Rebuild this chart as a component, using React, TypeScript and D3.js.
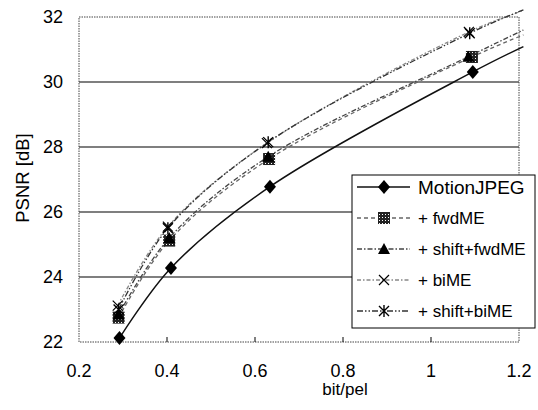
import React from 'react';
import * as d3 from 'd3';

// bit/pel and PSNR [dB]; last point is the tail past 1.2
const seriesNames = ['MotionJPEG', '+ fwdME', '+ shift+fwdME', '+ biME', '+ shift+biME'];
const motionX = [0.292, 0.409, 0.634, 1.095, 1.21];
const motionY = [22.12, 24.28, 26.78, 30.31, 31.09];
const fwdX = [0.29, 0.405, 0.632, 1.093, 1.21];
const fwdY = [22.75, 25.12, 27.63, 30.77, 31.45];
const shiftFwdX = [0.29, 0.405, 0.63, 1.085, 1.21];
const shiftFwdY = [22.85, 25.2, 27.7, 30.78, 31.6];
const biX = [0.288, 0.402, 0.627, 1.086, 1.21];
const biY = [23.12, 25.55, 28.12, 31.54, 32.2];
const shiftBiX = [0.29, 0.402, 0.63, 1.088, 1.21];
const shiftBiY = [23.0, 25.5, 28.15, 31.5, 32.22];

const xTicks = [0.2, 0.4, 0.6, 0.8, 1, 1.2];
const yTicks = [22, 24, 26, 28, 30, 32];

const font = '"Liberation Sans", Arial, sans-serif';

const styles = [
    { stroke: '#111', dash: null, width: 1.5, marker: 'diamond' },
    { stroke: '#666', dash: '4,3', width: 1.3, marker: 'checker' },
    { stroke: '#444', dash: '5,2,1.5,2', width: 1.3, marker: 'triangle' },
    { stroke: '#888', dash: '4,2,1.5,2', width: 1.3, marker: 'cross' },
    { stroke: '#333', dash: '6,2,1.5,2,1.5,2', width: 1.3, marker: 'star' },
];

function Marker({ kind, x, y }) {
    if (kind === 'diamond') {
        return <path d={`M${x},${y - 7}L${x + 6},${y}L${x},${y + 7}L${x - 6},${y}Z`} fill="#000" />;
    }
    if (kind === 'checker') {
        return <rect x={x - 6} y={y - 6} width={12} height={12} fill="url(#chk)" />;
    }
    if (kind === 'triangle') {
        return <path d={`M${x},${y - 6}L${x + 6},${y + 5}L${x - 6},${y + 5}Z`} fill="#000" />;
    }
    if (kind === 'cross') {
        return <path d={`M${x - 5},${y - 5}L${x + 5},${y + 5}M${x + 5},${y - 5}L${x - 5},${y + 5}`} stroke="#000" strokeWidth={1.2} fill="none" />;
    }
    return <path d={`M${x - 5},${y - 5}L${x + 5},${y + 5}M${x + 5},${y - 5}L${x - 5},${y + 5}M${x},${y - 6}L${x},${y + 6}`} stroke="#000" strokeWidth={1.4} fill="none" />;
}

export default function App() {
    const x = d3.scaleLinear().domain([0.2, 1.2]).range([79, 519]);
    const y = d3.scaleLinear().domain([22, 32]).range([342, 17]);

    const series = [
        [motionX, motionY],
        [fwdX, fwdY],
        [shiftFwdX, shiftFwdY],
        [biX, biY],
        [shiftBiX, shiftBiY],
    ];

    const line = d3
        .line()
        .x(d => x(d[0]))
        .y(d => y(d[1]))
        .curve(d3.curveCatmullRom.alpha(0.5));

    const [x0, x1] = x.range();
    const [yb, yt] = y.range();
    const legendRows = [187, 218, 249, 280, 311];

    return (
        <svg width={538} height={410} style={{ position: 'absolute', left: 0, top: 0, background: '#fff' }}>
            <defs>
                <pattern id="chk" width="3" height="3" patternUnits="userSpaceOnUse">
                    <rect width="3" height="3" fill="#222" />
                    <rect x="1" y="1" width="1" height="1" fill="#fff" />
                </pattern>
            </defs>

            {/* grid */}
            {yTicks.filter(t => t > 22 && t < 32).map(t => (
                <line key={t} x1={x0} x2={x1} y1={y(t)} y2={y(t)} stroke="#000" strokeWidth={1.1} />
            ))}

            {/* dotted frame */}
            <rect x={x0} y={yt} width={x1 - x0} height={yb - yt} fill="none" stroke="#444" strokeWidth={1} strokeDasharray="1.5,1" />
            {xTicks.slice(1, -1).map(t => (
                <line key={t} x1={x(t)} x2={x(t)} y1={yb} y2={yb - 5} stroke="#000" strokeWidth={1} />
            ))}

            {/* series */}
            {series.map(([xs, ys], i) => {
                const pts = xs.map((v, j) => [v, ys[j]]);
                const s = styles[i];
                return (
                    <g key={seriesNames[i]}>
                        <path d={line(pts)} fill="none" stroke={s.stroke} strokeWidth={s.width} strokeDasharray={s.dash || undefined} />
                        {pts.filter(p => p[0] <= 1.2).map((p, j) => (
                            <Marker key={j} kind={s.marker} x={x(p[0])} y={y(p[1])} />
                        ))}
                    </g>
                );
            })}

            {/* tick labels */}
            {yTicks.map(t => (
                <text key={t} x={63} y={y(t)} dy="0.36em" textAnchor="end" fontFamily={font} fontSize={18}>{t}</text>
            ))}
            {xTicks.map(t => (
                <text key={t} x={x(t)} y={377} textAnchor="middle" fontFamily={font} fontSize={18}>{String(t)}</text>
            ))}

            {/* axis titles */}
            <text x={345} y={395} textAnchor="middle" fontFamily={font} fontSize={17}>bit/pel</text>
            <text transform="translate(29,178) rotate(-90)" textAnchor="middle" fontFamily={font} fontSize={18.5}>PSNR [dB]</text>

            {/* legend */}
            <rect x={352} y={175} width={183} height={153} fill="#fff" stroke="#000" strokeWidth={1} />
            {seriesNames.map((name, i) => {
                const s = styles[i];
                const ry = legendRows[i];
                return (
                    <g key={name}>
                        <line x1={357} x2={410} y1={ry} y2={ry} stroke={s.stroke} strokeWidth={s.width} strokeDasharray={s.dash || undefined} />
                        <Marker kind={s.marker} x={384} y={ry} />
                        <text x={418} y={ry} dy="0.36em" fontFamily={font} fontSize={i === 0 ? 19 : 17}>{name}</text>
                    </g>
                );
            })}
        </svg>
    );
}
